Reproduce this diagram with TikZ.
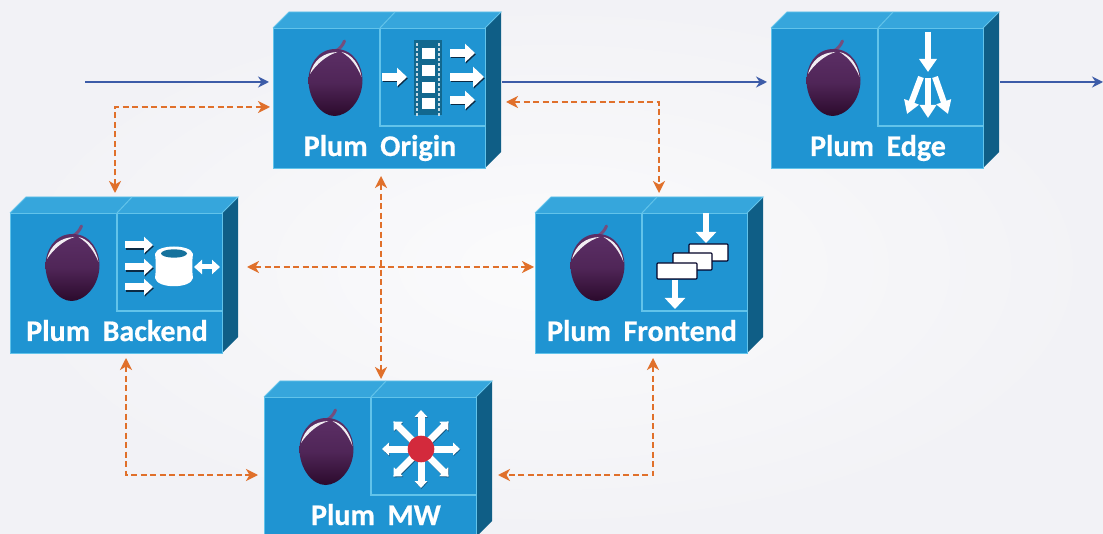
\documentclass[tikz,border=0pt]{standalone}
\usepackage{fontspec}
\setmainfont{Carlito}
\newfontfamily\boxfont{Carlito}[BoldFeatures={FakeBold=0.5}]
\usetikzlibrary{arrows.meta,calc}
\definecolor{bgmid}{HTML}{FBFBFC}
\definecolor{bgout}{HTML}{F2F2F6}
\definecolor{front}{HTML}{1F94D2}
\definecolor{topf}{HTML}{36A6DC}
\definecolor{sidef}{HTML}{0F5E86}
\definecolor{edgeln}{HTML}{62C3EA}
\definecolor{filmc}{HTML}{12688F}
\definecolor{bluew}{HTML}{3D5CA8}
\definecolor{orangew}{HTML}{E0702B}
\definecolor{plumtop}{HTML}{5C2F66}
\definecolor{plumbot}{HTML}{2B0A2C}
\definecolor{redhub}{HTML}{D32A3C}
\definecolor{shadowc}{HTML}{0B2A44}
\tikzset{
  boxshape/.style={inner sep=0pt,outer sep=0pt,minimum width=229pt,minimum height=156pt,anchor=north west},
  boxlabel/.style={text=white,font=\boxfont\bfseries\fontsize{30}{32}\selectfont,anchor=base,inner sep=0pt},
  bluewire/.style={draw=bluew,line width=2pt},
  bluetip/.style={-{Stealth[length=11pt,width=11pt]}},
  orangewire/.style={draw=orangew,line width=1.5pt,dash pattern=on 6pt off 3.5pt,{Stealth[length=12pt,width=12pt,inset=3.5pt]}-{Stealth[length=12pt,width=12pt,inset=3.5pt]}},
  fat/.style={draw=white,line width=#1},
  fat/.default=5pt,
  shadowed/.style={draw=shadowc,line width=#1},
}
% fat white arrow with a dark shadow: shaft, head width, head length, from, to
\newcommand{\fatarrow}[5]{%
  \draw[shadowed=#1pt,-{Triangle[length=#3pt,width=#2pt,color=shadowc]}] ($(#4)+(.8,1.4)$) -- ($(#5)+(.8,1.4)$);
  \draw[fat=#1pt,-{Triangle[length=#3pt,width=#2pt,color=white]}] (#4) -- (#5);
}
\newcommand{\plumfruit}{%
  \draw[draw=plumtop!85!white,line width=3pt,line cap=round] (0,-31) .. controls (4,-33) and (7,-36) .. (9,-41);
  \shade[top color=plumtop,bottom color=plumbot,middle color=plumtop!75!plumbot]
    (0,-33) .. controls (19,-33) and (27,-15) .. (27,-2) .. controls (27,19) and (12,34) .. (-1,34)
    .. controls (-14,34) and (-27,18) .. (-27,-2) .. controls (-27,-15) and (-19,-33) .. (0,-33) -- cycle;
  \fill[white!92!plumtop] (-25.5,-8) .. controls (-22,-22) and (-12,-29.5) .. (2,-30) .. controls (-9,-26.5) and (-19,-18) .. (-25.5,-8) -- cycle;
  \fill[white!92!plumtop] (6,-30) .. controls (16,-28) and (24,-18) .. (26,-5) .. controls (22,-15) and (16,-24) .. (6,-30) -- cycle;
}
% name, x, y, label, label shift
\newcommand{\plumbox}[5]{%
  \fill[topf] (#2,#3) -- ++(16,-16) -- ++(212,0) -- ++(-16,16) -- cycle;
  \fill[sidef] (#2+212,#3) -- ++(16,-16) -- ++(0,140) -- ++(-16,16) -- cycle;
  \fill[front] (#2,#3) rectangle ++(212,140);
  \draw[edgeln,line width=.9pt] (#2,#3) -- ++(212,0) -- ++(0,140) -- ++(-212,0) -- cycle;
  \draw[edgeln,line width=.9pt] (#2,#3) -- ++(16,-16) -- ++(212,0) -- ++(-16,16);
  \draw[edgeln,line width=1pt] (#2+107,#3) -- ++(15,-16);
  \draw[edgeln,line width=1.1pt] (#2+107,#3) -- ++(0,98) -- ++(105,0);
  \node[boxshape] (#1) at (#2,#3-16) {};
  \node[boxlabel] (#1-label) at (#2+107+#5,#3+128) {Plum\hspace{.42em}#4};
  \begin{scope}[shift={(#2+62.5,#3+54)}]\plumfruit\end{scope}
}
\begin{document}
\begin{tikzpicture}[x=1pt,y=-1pt]
\clip (0,0) rectangle (1103,534);
\shade[inner color=bgmid,outer color=bgout] (0,0) rectangle (1103,534);

\plumbox{origin}{273}{28}{Origin}{0}
\plumbox{edge}{771}{28}{Edge}{0}
\plumbox{backend}{10}{213}{Backend}{0}
\plumbox{frontend}{535}{213}{Frontend}{0}
\plumbox{mw}{264}{397}{MW}{5}

% Origin icon
\begin{scope}[shift={(380,28)}]
  \fill[filmc] (34,12) rectangle (62,87);
  \foreach \yy in {20,37,54,70} \fill[white] (42,\yy) rectangle (55,\yy+11);
  \foreach \yy in {15,20,...,85} {\fill[white!75!filmc] (36,\yy) rectangle ++(2.2,2.6); \fill[white!75!filmc] (58,\yy) rectangle ++(2.2,2.6);}
  \fatarrow{8}{18}{10}{2,49}{27,49}
  \fatarrow{8}{18}{10}{70,25}{95,25}
  \fatarrow{8}{20}{11}{70,49}{104,49}
  \fatarrow{8}{18}{10}{70,72}{95,72}
\end{scope}

% Edge icon
\begin{scope}[shift={(877,28)}]
  \draw[fat=6pt,-{Triangle[length=13pt,width=17pt,color=white]}] (51,4) -- (51,44);
  \draw[fat=6pt,-{Triangle[length=13pt,width=15pt,color=white]}] (44,49) -- (30,86);
  \draw[fat=6pt,-{Triangle[length=13pt,width=16pt,color=white]}] (51,50) -- (51,90);
  \draw[fat=6pt,-{Triangle[length=13pt,width=15pt,color=white]}] (58,49) -- (71,86);
\end{scope}

% Backend icon
\begin{scope}[shift={(117,213)}]
  \fatarrow{7}{16}{9}{8,32}{36,32}
  \fatarrow{7}{16}{9}{8,54}{36,54}
  \fatarrow{7}{16}{9}{8,74}{36,74}
  \fill[white] (38,41) .. controls (40,31) and (74,31) .. (76,41) .. controls (75,48) and (75,58) .. (76,65)
     .. controls (74,76) and (40,76) .. (38,65) .. controls (39,58) and (39,48) .. (38,41) -- cycle;
  \fill[filmc!80!front] (57,40.5) ellipse [x radius=13,y radius=4.2];
  \draw[fat=5pt,{Triangle[length=8pt,width=14pt,color=white]}-{Triangle[length=8pt,width=14pt,color=white]}] (77,54) -- (103,54);
\end{scope}

% Frontend icon
\begin{scope}[shift={(642,213)}]
  \draw[fat=6pt,-{Triangle[length=11pt,width=20pt,color=white]}] (64,0) -- (64,30);
  \draw[draw=black!85!blue,fill=white,line width=1.1pt,rounded corners=.8pt] (47,31) rectangle (86,48);
  \draw[draw=black!85!blue,fill=white,line width=1.1pt,rounded corners=.8pt] (31,40) rectangle (70,57);
  \draw[draw=black!85!blue,fill=white,line width=1.1pt,rounded corners=.8pt] (15,50) rectangle (55,66);
  \draw[fat=6pt,-{Triangle[length=11pt,width=20pt,color=white]}] (33,67) -- (33,96);
\end{scope}

% MW icon
\begin{scope}[shift={(421,449)}]
  \foreach \aa in {0,45,...,315} {
    \draw[draw=shadowc!60!front,line width=7pt,-{Triangle[length=7pt,width=12.5pt,color=shadowc!60!front]}] ($(\aa:8)+(.5,.8)$) -- ($(\aa:39)+(.5,.8)$);
    \draw[fat=7pt,-{Triangle[length=7pt,width=12.5pt,color=white]}] (\aa:8) -- (\aa:39);
  }
  \fill[redhub] (0,0) circle [radius=13.3];
\end{scope}

% blue connectors
\coordinate (inL) at (85,82);
\coordinate (outR) at (1103,82);
\draw[bluewire,bluetip,shorten >=4pt] (inL) -- (inL -| origin.west);
\draw[bluewire,bluetip,shorten >=4pt] (inL -| origin.east) -- (inL -| edge.west);
\draw[bluewire,bluetip] (inL -| edge.east) -- (outR);

% orange connectors
\coordinate (c1) at (115,107);
\coordinate (c2) at (659,102);
\coordinate (c3) at (381,267);
\coordinate (c4) at (126,475);
\coordinate (c5) at (653,475);
\draw[orangewire,shorten <=4pt,shorten >=3pt] (c1 |- backend.north) -- (c1) -- (c1 -| origin.west);
\draw[orangewire,shorten <=4pt,shorten >=4pt] (c2 -| origin.east) -- (c2) -- (c2 |- frontend.north);
\draw[orangewire,shorten <=8pt,shorten >=2pt] (c3 |- origin.south) -- (c3 |- mw.north);
\draw[orangewire,shorten <=8pt,shorten >=1pt] (c3 -| backend.east) -- (c3 -| frontend.west);
\draw[orangewire,shorten <=5pt,shorten >=6pt] (c4 |- backend.south) -- (c4) -- (c4 -| mw.west);
\draw[orangewire,shorten <=5pt,shorten >=5pt] (c5 |- frontend.south) -- (c5) -- (c5 -| mw.east);
\end{tikzpicture}
\end{document}
